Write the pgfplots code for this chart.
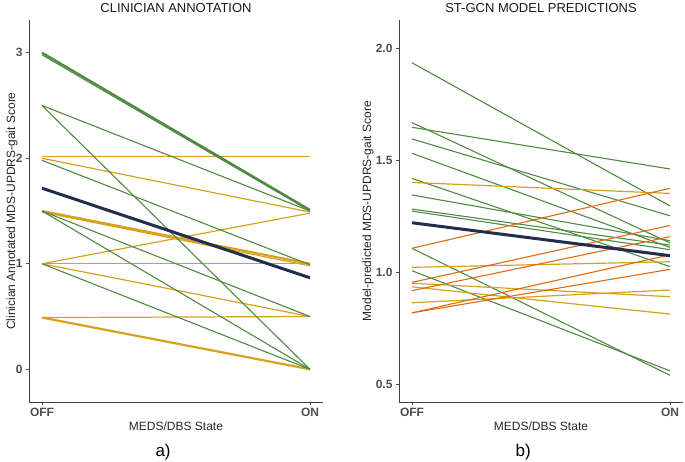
\documentclass[border=0pt]{standalone}
\usepackage{pgfplots}
\pgfplotsset{compat=1.18}
\usepackage{fontspec}
\setmainfont{Liberation Sans}
\definecolor{lgreen}{HTML}{4F8A42}
\definecolor{lgold}{HTML}{D6A21E}
\definecolor{lorange}{HTML}{DE6A12}
\definecolor{lnavy}{HTML}{232D4E}
\definecolor{tickgray}{HTML}{4D4D4D}

\pgfplotsset{
  panel/.style={
    scale only axis, width=294pt, height=382pt,
    anchor=south west,
    axis x line=bottom, axis y line=left,
    axis line style={-, color=black!75, line width=0.9pt},
    xtick={0,1}, xticklabels={OFF,ON},
    tick style={color=black!70, line width=0.6pt},
    tick align=outside, major tick length=3pt,
    ticklabel style={font=\fontsize{12}{14}\selectfont\bfseries, color=tickgray},
    /pgf/number format/assume math mode=true,
    xlabel={MEDS/DBS State},
    label style={font=\fontsize{12}{14}\selectfont, color=black!85},
    clip=false,
  },
  g/.style={color=lgreen, line width=1.1pt, mark=none},
  gt/.style={color=lgreen, line width=2.2pt, mark=none},
  y/.style={color=lgold, line width=1.2pt, mark=none},
  yt/.style={color=lgold, line width=2.2pt, mark=none},
  o/.style={color=lorange, line width=1.1pt, mark=none},
  n/.style={color=lnavy, line width=3pt, mark=none},
}
\tikzset{ptitle/.style={font=\fontsize{13}{15}\selectfont, color=black!90, anchor=center}}

\begin{document}
\begin{tikzpicture}[x=1pt,y=1pt]
\path[use as bounding box] (0,0) rectangle (685,461);

% ---- a) clinician annotation
\begin{axis}[panel, at={(29pt,59pt)},
  xmin=-0.0485, xmax=1.0485, ymin=-0.31, ymax=3.31,
  ytick={0,1,2,3},
  ylabel={Clinician Annotated MDS-UPDRS-gait Score},
  ylabel style={at={(axis description cs:-0.058,0.5)}, anchor=center, rotate=0},
  xlabel style={at={(axis description cs:0.5,-0.063)}, anchor=center},
]
\addplot[y] coordinates {(0,2.015) (1,2.015)};
\addplot[y] coordinates {(0,2.0) (1,1.49)};
\addplot[yt] coordinates {(0,1.5) (1,1.0)};
\addplot[y] coordinates {(0,1.49) (1,0.98)};
\addplot[y] coordinates {(0,1.0) (1,1.48)};
\addplot[y] coordinates {(0,1.005) (1,1.005)};
\addplot[y] coordinates {(0,1.0) (1,0.5)};
\addplot[y] coordinates {(0,0.49) (1,0.5)};
\addplot[yt] coordinates {(0,0.49) (1,0.0)};
\addplot[gt] coordinates {(0,3.0) (1,1.51)};
\addplot[g] coordinates {(0,2.98) (1,1.5)};
\addplot[g] coordinates {(0,2.5) (1,1.5)};
\addplot[g] coordinates {(0,2.5) (1,0.0)};
\addplot[g] coordinates {(0,1.98) (1,0.99)};
\addplot[g] coordinates {(0,1.5) (1,0.5)};
\addplot[g] coordinates {(0,1.5) (1,0.0)};
\addplot[g] coordinates {(0,1.0) (1,0.0)};
\addplot[n] coordinates {(0,1.716) (1,0.867)};
\node[ptitle] at (axis description cs:0.5,1.031) {CLINICIAN ANNOTATION};
\node[font=\fontsize{17}{19}\selectfont] at (axis description cs:0.456,-0.131) {a)};
\end{axis}

% ---- b) ST-GCN predictions
\begin{axis}[panel, at={(399pt,59pt)}, width=284pt,
  xmin=-0.0504, xmax=1.0504, ymin=0.42, ymax=2.125,
  ytick={0.5,1.0,1.5,2.0},
  yticklabel style={/pgf/number format/.cd, fixed, fixed zerofill, precision=1},
  ylabel={Model-predicted MDS-UPDRS-gait Score},
  ylabel style={at={(axis description cs:-0.109,0.5)}, anchor=center, rotate=0},
  xlabel style={at={(axis description cs:0.5,-0.063)}, anchor=center},
]
\addplot[g] coordinates {(0,1.934) (1,1.295)};
\addplot[g] coordinates {(0,1.667) (1,1.13)};
\addplot[g] coordinates {(0,1.646) (1,1.460)};
\addplot[g] coordinates {(0,1.594) (1,1.251)};
\addplot[g] coordinates {(0,1.530) (1,1.11)};
\addplot[g] coordinates {(0,1.418) (1,1.024)};
\addplot[g] coordinates {(0,1.344) (1,1.14)};
\addplot[g] coordinates {(0,1.281) (1,1.12)};
\addplot[g] coordinates {(0,1.272) (1,1.10)};
\addplot[g] coordinates {(0,1.106) (1,0.539)};
\addplot[g] coordinates {(0,1.006) (1,0.559)};
\addplot[y] coordinates {(0,1.400) (1,1.351)};
\addplot[y] coordinates {(0,1.021) (1,1.046)};
\addplot[y] coordinates {(0,0.950) (1,0.890)};
\addplot[y] coordinates {(0,0.934) (1,0.8125)};
\addplot[y] coordinates {(0,0.863) (1,0.920)};
\addplot[o] coordinates {(0,1.106) (1,1.374)};
\addplot[o] coordinates {(0,0.954) (1,1.208)};
\addplot[o] coordinates {(0,0.917) (1,1.158)};
\addplot[o] coordinates {(0,0.818) (1,1.077)};
\addplot[o] coordinates {(0,0.818) (1,1.012)};
\addplot[n] coordinates {(0,1.220) (1,1.073)};
\node[ptitle] at (axis description cs:0.5,1.031) {ST-GCN MODEL PREDICTIONS};
\node[font=\fontsize{17}{19}\selectfont] at (axis description cs:0.437,-0.131) {b)};
\end{axis}
\end{tikzpicture}
\end{document}
